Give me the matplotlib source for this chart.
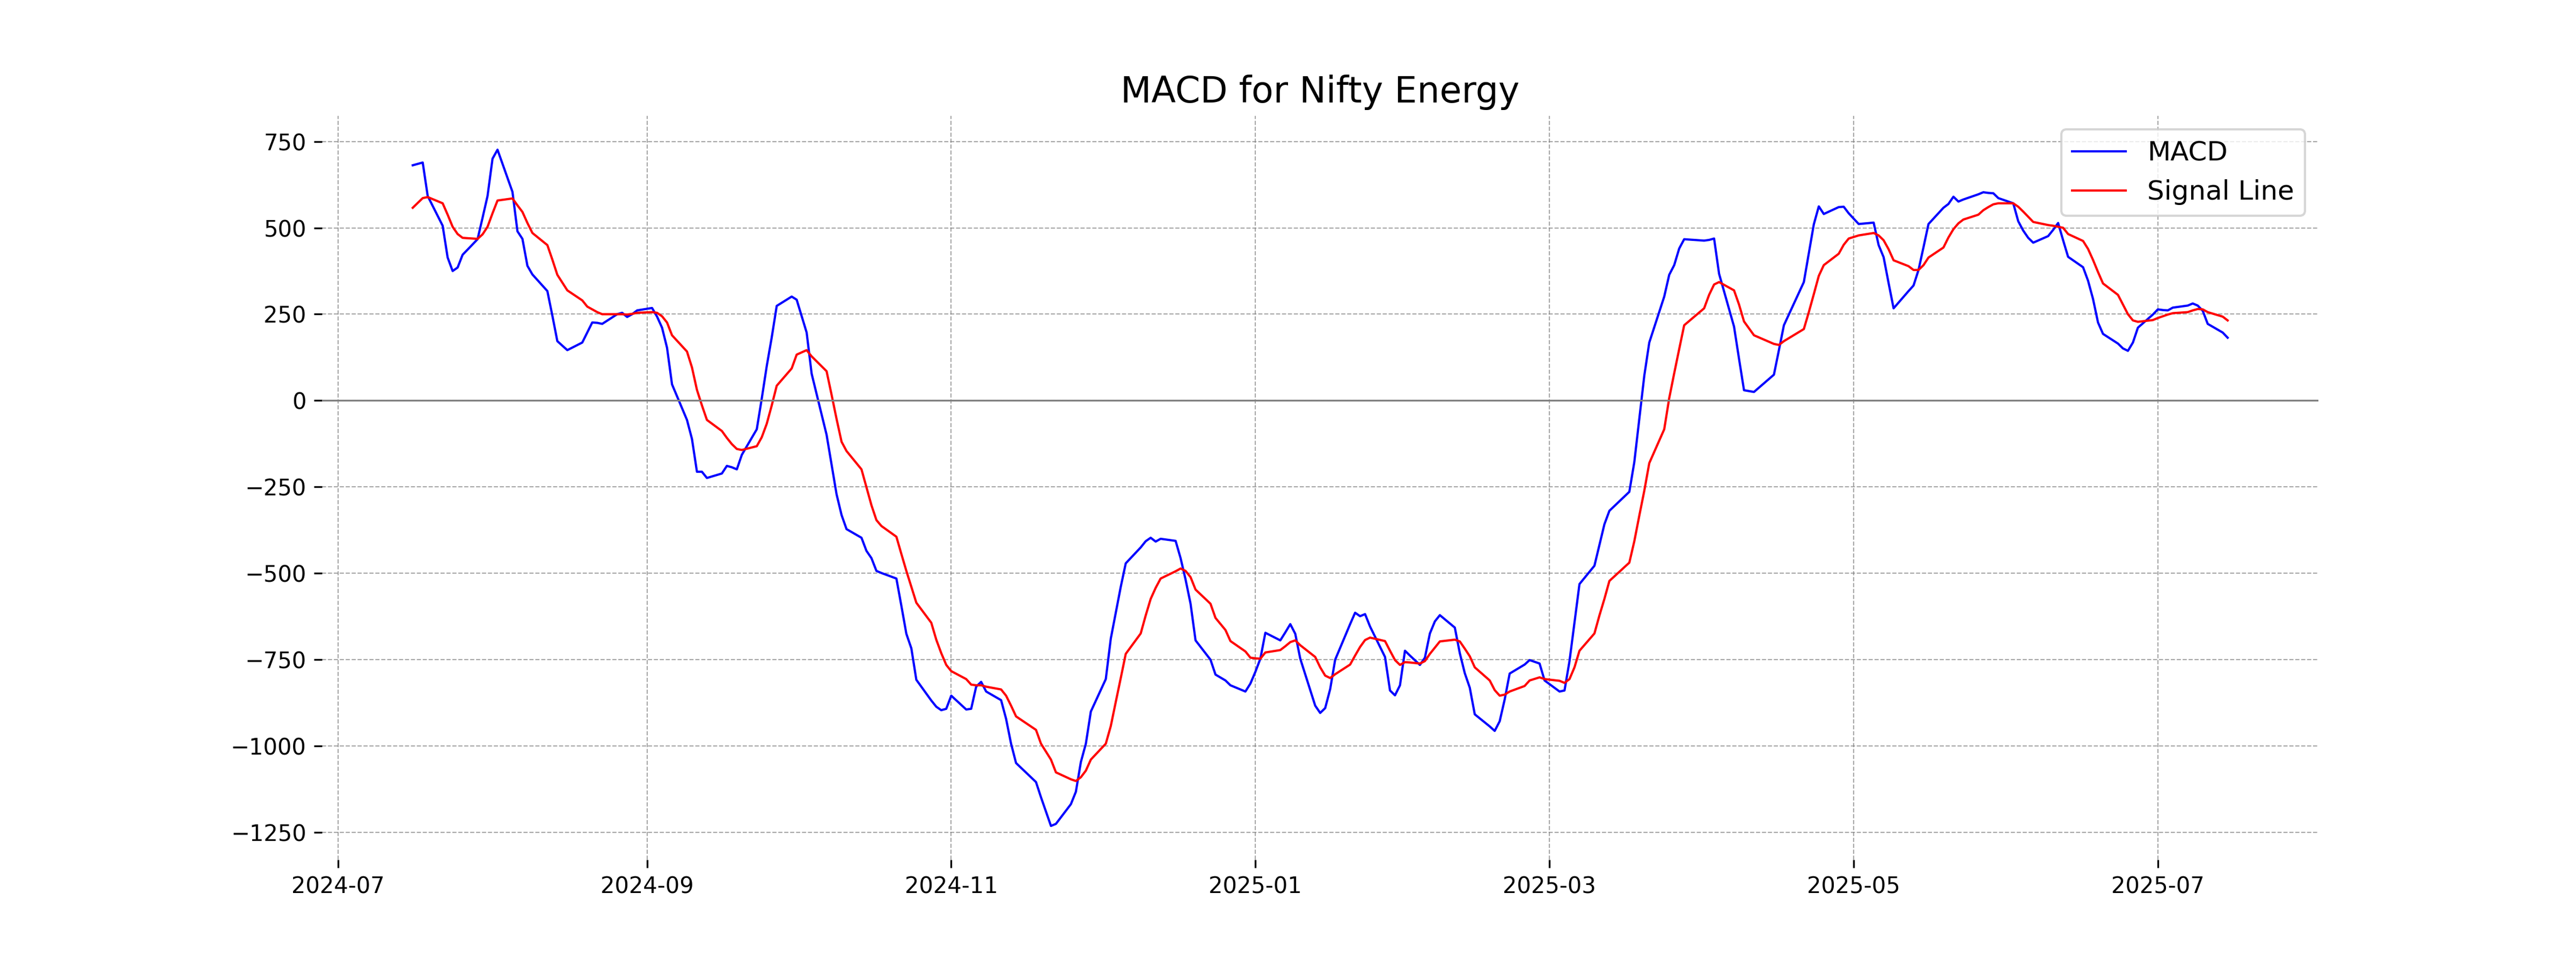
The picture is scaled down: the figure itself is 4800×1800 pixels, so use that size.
import matplotlib
matplotlib.use("Agg")
import matplotlib.pyplot as plt
import pandas as pd

# NSE trading calendar for the period shown
holidays = ["2024-07-17", "2024-08-15", "2024-10-02", "2024-11-15", "2024-11-20",
            "2024-12-25", "2025-02-26", "2025-03-14", "2025-03-31", "2025-04-10",
            "2025-04-14", "2025-04-18", "2025-05-01"]
special_sessions = ["2025-02-01"]
dates = pd.bdate_range("2024-07-16", "2025-07-15")
dates = dates[~dates.isin(pd.to_datetime(holidays))]
dates = dates.union(pd.to_datetime(special_sessions))

macd = [
    # Jul 2024
    681, 689, 592, 506, 414, 375, 385, 422, 467, 529, 592,
    # Aug
    700, 726, 604, 490, 468, 390, 365, 317, 246, 172, 146, 168, 197, 226, 225, 222, 250, 254, 242, 250, 261,
    # Sep
    268, 243, 211, 153, 47, -56, -111, -206, -206, -224, -211, -189, -193, -199, -157, -83, 6, 100, 183, 274, 301,
    # Oct
    292, 197, 78, -99, -185, -271, -331, -372, -397, -435, -456, -493, -499, -515, -594, -675, -717, -808, -868, -886, -896, -892,
    # Nov
    -854, -894, -892, -828, -814, -842, -867, -921, -993, -1049, -1104, -1148, -1231, -1225, -1168, -1132, -1046, -993, -900,
    # Dec
    -806, -689, -614, -539, -471, -425, -407, -397, -408, -400, -406, -456, -518, -588, -694, -750, -793, -810, -824, -842, -819,
    # Jan 2025
    -785, -747, -672, -694, -671, -647, -675, -747, -883, -904, -890, -835, -750, -647, -614, -624, -618, -654, -742, -839, -853, -824, -724,
    # Feb
    -738, -765, -744, -674, -639, -621, -657, -731, -789, -831, -908, -943, -956, -928, -865, -790, -764, -751, -761, -810,
    # Mar
    -842, -839, -754, -643, -531, -478, -418, -358, -319, -264, -178, -53, 72, 168, 301, 364, 392, 440, 467,
    # Apr
    463, 465, 469, 367, 214, 121, 30, 25, 75, 146, 218, 343, 426, 510, 562, 540, 560, 561, 542,
    # May
    511, 515, 450, 415, 340, 267, 317, 333, 378, 444, 511, 558, 569, 590, 576, 582, 597, 603, 601, 600, 586,
    # Jun
    571, 519, 492, 471, 457, 476, 494, 514, 464, 416, 386, 347, 294, 226, 193, 165, 151, 144, 168, 211, 249,
    # Jul
    264, 262, 261, 269, 275, 281, 275, 260, 222, 197, 182,
]

signal = [
    # Jul 2024
    558, 586, 589, 571, 538, 503, 482, 471, 468, 481, 503,
    # Aug
    542, 579, 585, 565, 546, 514, 485, 450, 408, 364, 319, 290, 272, 264, 256, 250, 250, 250, 249, 251, 254,
    # Sep
    256, 254, 244, 226, 189, 142, 96, 31, -14, -56, -88, -108, -126, -140, -143, -132, -106, -67, -14, 43, 93,
    # Oct
    133, 146, 128, 85, 17, -53, -119, -146, -199, -251, -303, -346, -363, -394, -444, -493, -539, -585, -643, -692, -731, -765,
    # Nov
    -783, -806, -822, -824, -824, -828, -836, -854, -883, -914, -953, -993, -1039, -1076, -1096, -1101, -1090, -1071, -1039,
    # Dec
    -993, -942, -872, -803, -733, -674, -622, -574, -542, -515, -494, -486, -493, -511, -547, -588, -629, -664, -696, -726, -744,
    # Jan 2025
    -746, -747, -729, -722, -711, -699, -694, -708, -742, -772, -796, -803, -792, -764, -738, -713, -693, -686, -696, -724, -751, -765, -757,
    # Feb
    -758, -761, -754, -733, -715, -697, -692, -697, -718, -740, -772, -810, -838, -854, -851, -842, -826, -810, -801, -806,
    # Mar
    -811, -817, -806, -772, -724, -674, -622, -574, -522, -469, -407, -333, -261, -181, -83, 7, 79, 149, 218,
    # Apr
    267, 306, 336, 343, 319, 278, 229, 189, 164, 161, 172, 207, 256, 308, 361, 392, 425, 451, 469,
    # May
    478, 485, 478, 464, 438, 406, 389, 378, 378, 392, 414, 443, 472, 496, 513, 524, 538, 551, 560, 568, 571,
    # Jun
    571, 561, 547, 532, 517, 508, 506, 503, 500, 482, 462, 439, 407, 372, 339, 306, 278, 250, 232, 228, 233,
    # Jul
    239, 244, 249, 253, 256, 261, 265, 264, 256, 243, 232,
]

n = min(len(dates), len(macd), len(signal))
dates = dates[:n]
macd = macd[:n]
signal = signal[:n]

fig, ax = plt.subplots(figsize=(16, 6), dpi=300)
ax.plot(dates, macd, color="blue", linewidth=1, label="MACD")
ax.plot(dates, signal, color="red", linewidth=1, label="Signal Line")
ax.axhline(0, color="gray", linewidth=0.8)
ax.set_title("MACD for Nifty Energy", fontsize=16)
ax.grid(True, linestyle="--", linewidth=0.5, color="gray", alpha=0.7)
for sp in ax.spines.values():
    sp.set_visible(False)
ax.legend(loc="upper right", fontsize=12)
fig.savefig("out.png", dpi=300)
